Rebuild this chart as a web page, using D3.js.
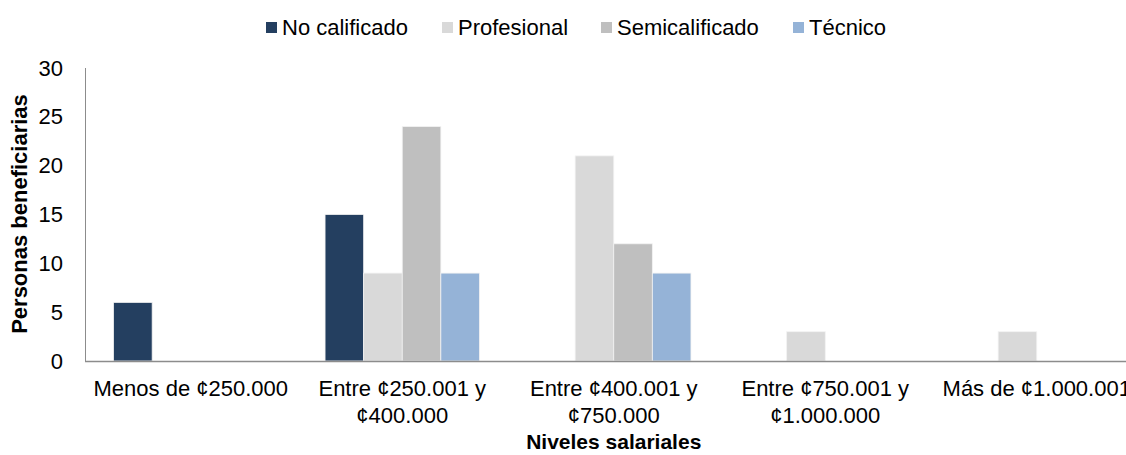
<!DOCTYPE html>
<meta charset="utf-8">
<style>
body { margin: 0; background: #fff; }
svg { display: block; font-family: "Liberation Sans", Arial, sans-serif; }
.axis path, .axis line { stroke: #8c8c8c; }
.axis text { font-size: 22px; fill: #000; font-family: "Liberation Sans", Arial, sans-serif; }
</style>
<svg width="1126" height="455"></svg>
<script src="https://cdn.jsdelivr.net/npm/d3@7"></script>
<script>

var categories = [
  ["Menos de ¢250.000"],
  ["Entre ¢250.001 y", "¢400.000"],
  ["Entre ¢400.001 y", "¢750.000"],
  ["Entre ¢750.001 y", "¢1.000.000"],
  ["Más de ¢1.000.001"]
];
var seriesNames = ["No calificado", "Profesional", "Semicalificado", "Técnico"];
var noCalificado = [6, 15, 0, 0, 0];
var profesional = [0, 9, 21, 3, 3];
var semicalificado = [0, 24, 12, 0, 0];
var tecnico = [0, 9, 9, 0, 0];
var yTicks = [0, 5, 10, 15, 20, 25, 30];
var colors = ["#243f60", "#d9d9d9", "#bfbfbf", "#95b3d7"];

var allSeries = [noCalificado, profesional, semicalificado, tecnico];

var svg = d3.select("svg");
var plotLeft = 85, plotBottom = 361, plotTop = 68;
var bandW = 211.5;

var x0 = d3.scaleBand()
    .domain(d3.range(categories.length))
    .range([plotLeft, plotLeft + bandW * categories.length])
    .paddingInner(0.27).paddingOuter(0.135);
var x1 = d3.scaleBand()
    .domain(d3.range(seriesNames.length))
    .range([0, x0.bandwidth()]);
var y = d3.scaleLinear().domain([0, 30]).range([plotBottom, plotTop]);

// bars
var groups = svg.append("g").selectAll("g")
  .data(categories)
  .enter().append("g")
  .attr("transform", function(d, i) { return "translate(" + x0(i) + ",0)"; });

groups.selectAll("rect")
  .data(function(d, i) { return allSeries.map(function(s, k) { return {k: k, v: s[i]}; }); })
  .enter().filter(function(d) { return d.v > 0; }).append("rect")
  .attr("x", function(d) { return x1(d.k); })
  .attr("width", x1.bandwidth())
  .attr("y", function(d) { return y(d.v); })
  .attr("height", function(d) { return plotBottom - y(d.v); })
  .attr("fill", function(d) { return colors[d.k]; })
  .attr("stroke", "#f2f2f2")
  .attr("stroke-width", 0.8);

// y axis
var yAxis = svg.append("g").attr("class", "axis")
  .attr("transform", "translate(" + plotLeft + ",0)")
  .call(d3.axisLeft(y).tickValues(yTicks).tickSize(0).tickPadding(22));
yAxis.select(".domain").attr("d", "M0.5," + plotTop + "V" + plotBottom);

// x axis line
svg.append("line")
  .attr("x1", plotLeft).attr("x2", 1126)
  .attr("y1", plotBottom + 0.5).attr("y2", plotBottom + 0.5)
  .attr("stroke", "#8c8c8c").attr("stroke-width", 1.5);

// x labels
var xl = svg.append("g").selectAll("text")
  .data(categories)
  .enter().append("text")
  .attr("text-anchor", "middle")
  .attr("font-size", 22)
  .attr("x", function(d, i) { return x0(i) + x0.bandwidth() / 2; })
  .attr("y", 396);
xl.selectAll("tspan")
  .data(function(d) { return d; })
  .enter().append("tspan")
  .attr("x", function() { return this.parentNode.getAttribute("x"); })
  .attr("dy", function(d, i) { return i ? 27 : 0; })
  .text(function(d) { return d; });

// axis titles
svg.append("text")
  .attr("x", x0(2) + x0.bandwidth() / 2).attr("y", 449)
  .attr("text-anchor", "middle")
  .attr("font-size", 21).attr("font-weight", "bold")
  .text("Niveles salariales");

svg.append("text")
  .attr("transform", "translate(27,214) rotate(-90)")
  .attr("text-anchor", "middle")
  .attr("font-size", 22).attr("font-weight", "bold")
  .text("Personas beneficiarias");

// legend
var legendX = [266, 442, 601, 793];
var lg = svg.append("g").selectAll("g")
  .data(seriesNames)
  .enter().append("g")
  .attr("transform", function(d, i) { return "translate(" + legendX[i] + ",0)"; });
lg.append("rect")
  .attr("x", 0).attr("y", 22).attr("width", 11).attr("height", 11)
  .attr("fill", function(d, i) { return colors[i]; });
lg.append("text")
  .attr("x", 16).attr("y", 35)
  .attr("font-size", 22)
  .text(function(d) { return d; });

</script>
